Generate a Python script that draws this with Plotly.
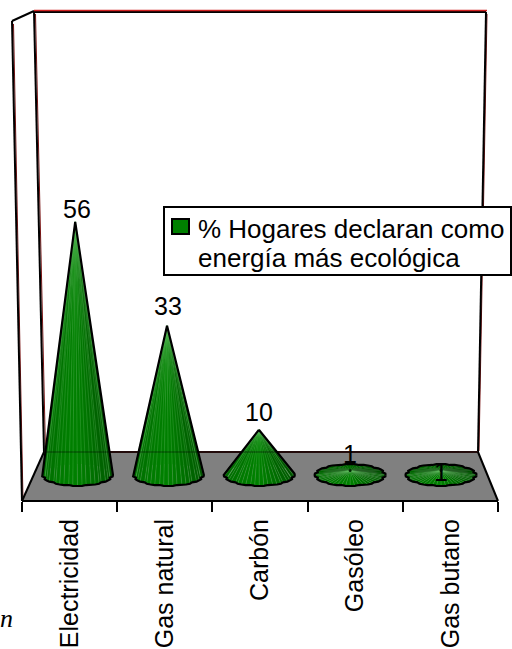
import numpy as np
import plotly.graph_objects as go

W, H = 512, 649

categories = ["Electricidad", "Gas natural", "Carbón", "Gasóleo", "Gas butano"]
values = [56, 33, 10, 1, 1]
label_lift = [13, 20, 18, 16, -2]
legend_lines = ["% Hogares declaran como", "energía más ecológica"]

FONT = "Liberation Sans"
PX_PER_UNIT = 4.52
BASE_Y = 475
CONE_STEP = 90.9
CONE_A = 35.5 / CONE_STEP
CONE_B = 11.0 / PX_PER_UNIT
RIBS = 48


def px(x):
    return x / W


def py(y):
    return 1 - y / H


def seg(x0, y0, x1, y1, color="black", width=2, layer="below", opacity=1):
    return dict(type="line", xref="paper", yref="paper", x0=px(x0), y0=py(y0), x1=px(x1), y1=py(y1),
                line=dict(color=color, width=width), layer=layer, opacity=opacity)


fig = go.Figure()

# Category trace that carries the tick axis along the front of the floor
fig.add_trace(go.Scatter(x=categories, y=values, xaxis="x", yaxis="y", mode="none",
                         showlegend=False, hoverinfo="skip"))


def base_point(i):
    t = 2 * np.pi * i / RIBS
    r = 0.945 if i % 4 == 2 else 1.0
    return t, r * CONE_A * np.cos(t), r * CONE_B * np.sin(t)


def rib_color(t):
    c, s = np.cos(t), np.sin(t)
    g = 128 - 22 * abs(c) ** 2 - 22 * max(c, 0)
    if s > 0:
        g -= 18 * s
    return f"rgb(0,{int(g)},0)"


for idx, value in enumerate(values):
    tip_x = idx - 0.04 * value / CONE_STEP
    order = sorted(range(RIBS), key=lambda i: -np.sin(2 * np.pi * (i + 0.5) / RIBS))
    # Ribs from the back of the cone to the front
    for i in order:
        t0, x0, y0 = base_point(i)
        t1, x1, y1 = base_point(i + 1)
        fig.add_trace(go.Scatter(
            x=[tip_x, idx + x0, idx + x1, tip_x], y=[value, y0, y1, value],
            xaxis="x2", yaxis="y", mode="lines", fill="toself",
            fillcolor=rib_color((t0 + t1) / 2), line=dict(width=0),
            showlegend=False, hoverinfo="skip"))
    # Pale highlights along the front ribs; they gather toward the tip
    hx, hy = [], []
    for i in range(RIBS):
        t, x0, y0 = base_point(i)
        if np.sin(t) < 0.05:
            hx += [tip_x, idx + x0, None]
            hy += [value, y0, None]
    fig.add_trace(go.Scatter(x=hx, y=hy, xaxis="x2", yaxis="y", mode="lines",
                             line=dict(color="rgba(105,200,105,0.4)", width=0.7),
                             showlegend=False, hoverinfo="skip"))
    # Silhouette: the tangent lines and the visible part of the base rim
    ratio = value / CONE_B
    if ratio > 1:
        t_tan = np.arcsin(1 / ratio)
        rim = [i for i in range(RIBS + 4)
               if np.pi - t_tan <= (2 * np.pi * i / RIBS) <= 2 * np.pi + t_tan]
        ox = [tip_x] + [idx + base_point(i)[1] for i in rim] + [tip_x]
        oy = [value] + [base_point(i)[2] for i in rim] + [value]
    else:
        rim = list(range(RIBS + 1))
        ox = [idx + base_point(i)[1] for i in rim]
        oy = [base_point(i)[2] for i in rim]
    fig.add_trace(go.Scatter(x=ox, y=oy, xaxis="x2", yaxis="y", mode="lines",
                             line=dict(color="black", width=2.2),
                             showlegend=False, hoverinfo="skip"))
    if ratio <= 1:
        fig.add_trace(go.Scatter(x=[tip_x], y=[value], xaxis="x2", yaxis="y", mode="markers",
                                 marker=dict(color="rgb(0,40,0)", size=3),
                                 showlegend=False, hoverinfo="skip"))

annotations = [
    dict(x=idx, y=value, xref="x2", yref="y", text=str(value), showarrow=False,
         yshift=lift, yanchor="middle", font=dict(family=FONT, size=25, color="black"))
    for idx, (value, lift) in enumerate(zip(values, label_lift))
]
# Legend text, one annotation per line
for line, centre_y in zip(legend_lines, [229, 258]):
    annotations.append(dict(x=px(196), y=py(centre_y), xref="paper", yref="paper", text=line,
                            showarrow=False, xanchor="left", yanchor="middle",
                            font=dict(family=FONT, size=26, color="black")))
# Fragment of caption at the page edge
annotations.append(dict(x=px(0), y=py(618), xref="paper", yref="paper", text="<i>n</i>", showarrow=False,
                        xanchor="left", yanchor="middle", xshift=-2,
                        font=dict(family="Liberation Serif", size=26, color="black")))

RED = "#7a1515"
shapes = [
    # Floor
    dict(type="path", xref="paper", yref="paper",
         path=f"M {px(22)} {py(501)} L {px(44)} {py(452)} L {px(478)} {py(452)} L {px(498)} {py(501)} Z",
         fillcolor="#808080", line=dict(width=0), layer="below"),
    # Dark red fringes beside the wall edges
    seg(13.5, 24, 23, 500, color=RED, width=1),
    seg(35.5, 14, 45.5, 451, color=RED, width=1),
    seg(487, 14, 479, 451, color=RED, width=1),
    # Wall edges
    seg(12, 21, 22, 501),
    seg(34, 11, 44, 452),
    seg(12, 21, 34, 11),
    seg(34, 12, 486, 12),
    seg(34, 10.5, 487, 10.5, color="#d02020", width=1.5),
    seg(486, 12, 478, 452),
    # Floor edges
    seg(44, 452, 478, 452, color="#301010"),
    seg(22, 501, 44, 452),
    seg(478, 452, 498, 501),
    # Back edge of the floor faintly visible through the cones
    seg(44, 452, 478, 452, color="black", width=2, layer="above", opacity=0.25),
    # Legend box and swatch
    dict(type="rect", xref="paper", yref="paper", x0=px(164), x1=px(511), y0=py(275), y1=py(207),
         fillcolor="white", line=dict(color="black", width=2), layer="above"),
    dict(type="rect", xref="paper", yref="paper", x0=px(172), x1=px(189), y0=py(234), y1=py(219),
         fillcolor="#008000", line=dict(color="black", width=2), layer="above"),
]

fig.update_layout(
    width=W, height=H, margin=dict(l=0, r=0, t=0, b=0, autoexpand=False), autosize=False,
    paper_bgcolor="white", plot_bgcolor="rgba(0,0,0,0)",
    shapes=shapes, annotations=annotations, hovermode=False,
    showlegend=False,
    xaxis=dict(domain=[px(22), px(498)], anchor="free", position=py(501), type="category",
               range=[-0.5, 4.5], categoryorder="array", categoryarray=categories,
               tickson="boundaries", ticks="outside", ticklen=10, tickwidth=2, tickcolor="black",
               showline=True, linecolor="black", linewidth=2, showgrid=False, zeroline=False,
               tickangle=-90, ticklabeloverflow="allow", ticklabelstandoff=7, automargin=False,
               tickfont=dict(family=FONT, size=25, color="black")),
    xaxis2=dict(domain=[px(32), px(486.5)], anchor="y", range=[-0.5, 4.5], visible=False, showgrid=False),
    yaxis=dict(domain=[0, 1], range=[(BASE_Y - H) / PX_PER_UNIT, BASE_Y / PX_PER_UNIT],
               visible=False, showgrid=False, zeroline=False),
)

fig.write_html("out.html", config=dict(displayModeBar=False))
